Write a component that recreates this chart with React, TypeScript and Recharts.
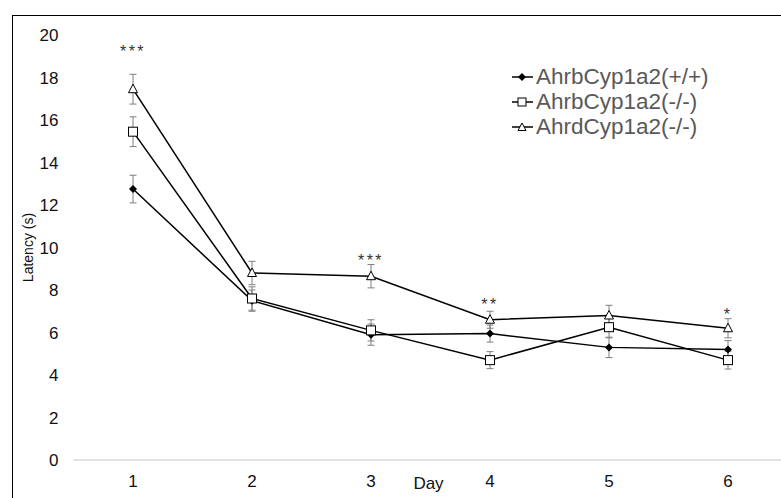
import React from "react";
import { LineChart, Line, XAxis, YAxis, ErrorBar, ReferenceDot } from "recharts";

const days = ["1", "2", "3", "4", "5", "6"];
const wildType = [12.75, 7.5, 5.9, 5.95, 5.3, 5.2];
const wildTypeErr = [0.65, 0.5, 0.5, 0.4, 0.48, 0.42];
const ahrbKo = [15.45, 7.6, 6.1, 4.7, 6.25, 4.7];
const ahrbKoErr = [0.7, 0.55, 0.5, 0.4, 0.5, 0.42];
const ahrdKo = [17.45, 8.8, 8.65, 6.6, 6.8, 6.2];
const ahrdKoErr = [0.7, 0.55, 0.55, 0.4, 0.48, 0.45];
const yTicks = [0, 2, 4, 6, 8, 10, 12, 14, 16, 18, 20];

// significance marks
const starDays = ["1", "3", "4", "6"];
const starText = ["***", "***", "**", "*"];
const starLevel = [19.22, 9.39, 7.34, 6.85];

const seriesNames = ["AhrbCyp1a2(+/+)", "AhrbCyp1a2(-/-)", "AhrdCyp1a2(-/-)"];

const data = days.map((d, i) => ({
  day: d,
  wt: wildType[i],
  wtErr: wildTypeErr[i],
  bko: ahrbKo[i],
  bkoErr: ahrbKoErr[i],
  dko: ahrdKo[i],
  dkoErr: ahrdKoErr[i],
}));

const FONT = '"Liberation Sans", Arial, sans-serif';

const Diamond = (p: any) => (
  <polygon
    key={`dm-${p.index}`}
    points={`${p.cx},${p.cy - 4} ${p.cx + 4},${p.cy} ${p.cx},${p.cy + 4} ${p.cx - 4},${p.cy}`}
    fill="#000"
  />
);

const Square = (p: any) => (
  <rect key={`sq-${p.index}`} x={p.cx - 4.5} y={p.cy - 4.5} width={9} height={9} fill="#fff" stroke="#000" strokeWidth={1} />
);

const Triangle = (p: any) => (
  <polygon
    key={`tr-${p.index}`}
    points={`${p.cx},${p.cy - 5} ${p.cx + 4.5},${p.cy + 3.5} ${p.cx - 4.5},${p.cy + 3.5}`}
    fill="#fff"
    stroke="#000"
    strokeWidth={1}
  />
);

const legendMarkers = [
  <polygon key="a" points="11,2 15,6 11,10 7,6" fill="#000" />,
  <rect key="b" x={7} y={2} width={8} height={8} fill="#fff" stroke="#000" />,
  <polygon key="c" points="11,2 15,9.5 7,9.5" fill="#fff" stroke="#000" />,
];

export default function App() {
  return (
    <div
      style={{
        position: "absolute",
        left: 0,
        top: 0,
        width: 781,
        height: 498,
        overflow: "hidden",
        background: "#fff",
        fontFamily: FONT,
      }}
    >
      {/* outer frame, right/bottom edges fall outside the picture */}
      <div
        style={{
          position: "absolute",
          left: 11.5,
          top: 14.5,
          width: 820,
          height: 540,
          border: "1.5px solid #000",
        }}
      />
      <div style={{ position: "absolute", left: 0, top: 0 }}>
        <LineChart width={800} height={498} data={data} margin={{ top: 35, right: 12.5, left: 0, bottom: 0 }}>
          <XAxis
            dataKey="day"
            padding={{ left: 59.5, right: 59.5 }}
            axisLine={{ stroke: "#d9d9d9", strokeWidth: 1.5 }}
            tickLine={false}
            tickSize={13}
            tickMargin={2}
            height={38}
            tick={{ fill: "#111", fontSize: 17, fontFamily: FONT }}
            label={({ viewBox }: any) => (
              <text x={viewBox.x + 355} y={viewBox.y + 29} textAnchor="middle" fill="#111" fontSize={17} fontFamily={FONT}>
                Day
              </text>
            )}
          />
          <YAxis
            domain={[0, 20]}
            ticks={yTicks}
            width={73.5}
            axisLine={false}
            tickLine={false}
            tickSize={13}
            tickMargin={2}
            tick={{ fill: "#111", fontSize: 17, fontFamily: FONT }}
            label={({ viewBox }: any) => (
              <text
                x={28}
                y={viewBox.y + viewBox.height / 2}
                transform={`rotate(-90, 28, ${viewBox.y + viewBox.height / 2})`}
                textAnchor="middle"
                dominantBaseline="central"
                fill="#111"
                fontSize={14}
                fontFamily={FONT}
              >
                Latency (s)
              </text>
            )}
          />
          <Line dataKey="wt" stroke="#000" strokeWidth={1.5} dot={Diamond} activeDot={false} isAnimationActive={false}>
            <ErrorBar dataKey="wtErr" width={3.5} stroke="#7f7f7f" strokeWidth={1} direction="y" />
          </Line>
          <Line dataKey="bko" stroke="#000" strokeWidth={1.5} dot={Square} activeDot={false} isAnimationActive={false}>
            <ErrorBar dataKey="bkoErr" width={3.5} stroke="#7f7f7f" strokeWidth={1} direction="y" />
          </Line>
          <Line dataKey="dko" stroke="#000" strokeWidth={1.5} dot={Triangle} activeDot={false} isAnimationActive={false}>
            <ErrorBar dataKey="dkoErr" width={3.5} stroke="#7f7f7f" strokeWidth={1} direction="y" />
          </Line>
          {starDays.map((d, i) => (
            <ReferenceDot
              key={`star-${d}`}
              x={d}
              y={starLevel[i]}
              r={0}
              fill="none"
              stroke="none"
              label={{ value: starText[i], position: "center", fill: "#333", fontSize: 16, fontFamily: FONT, letterSpacing: 2.5 }}
            />
          ))}
        </LineChart>
      </div>
      {/* legend */}
      <div style={{ position: "absolute", left: 511, top: 64 }}>
        {seriesNames.map((n, i) => (
          <div key={n} style={{ display: "flex", alignItems: "center", height: 25 }}>
            <svg width={23} height={12} style={{ marginRight: 2 }}>
              <line x1={1} y1={6} x2={22} y2={6} stroke="#000" strokeWidth={1.5} />
              {legendMarkers[i]}
            </svg>
            <span style={{ fontSize: 22.5, color: "#595959", lineHeight: "25px", whiteSpace: "nowrap" }}>{n}</span>
          </div>
        ))}
      </div>
    </div>
  );
}
